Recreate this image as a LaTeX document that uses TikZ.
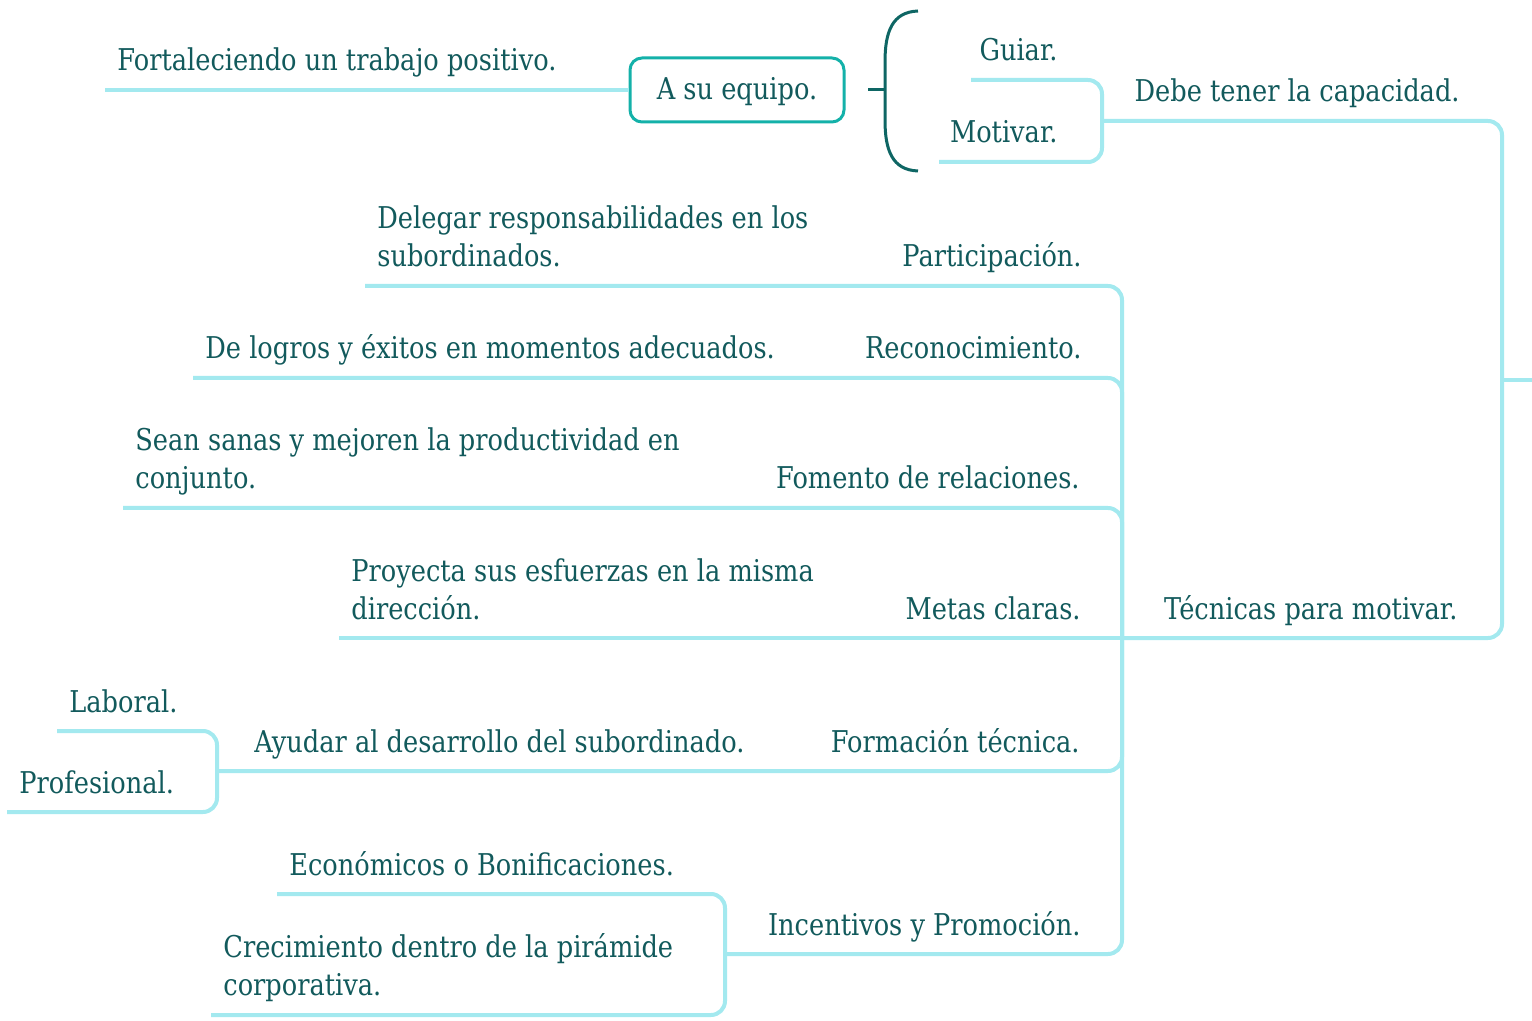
\documentclass[tikz,border=0pt]{standalone}
\usepackage{fontspec}
\setmainfont{DejaVu Serif}[FakeStretch=0.855]
\definecolor{txt}{HTML}{125A5C}
\definecolor{branchc}{HTML}{A3E9EF}
\definecolor{boxc}{HTML}{14B1A9}
\definecolor{bracec}{HTML}{0E6664}
\tikzset{
	branch/.style={draw=branchc, line width=2pt, rounded corners=7pt},
	txtfont/.style={text=txt, font=\fontsize{15}{19}\selectfont},
	lbl/.style={txtfont, inner sep=0pt, anchor=base west, align=left, yshift=-1pt},
	lblr/.style={lbl, anchor=base east, align=right},
	topicbox/.style={txtfont, draw=boxc, line width=1.5pt, rounded corners=6pt, minimum width=107pt, minimum height=32pt, text height=11pt, text depth=1pt}
}
\begin{document}
\begin{tikzpicture}[x=0.5pt, y=-0.5pt]
		\useasboundingbox (0,0) rectangle (1532,1021);
		% junctions and free ends
		\coordinate (root) at (1532,380);
		\coordinate (rootJ) at (1502,380);
		\coordinate (debeJ) at (1102,121);
		\coordinate (tecJ) at (1122,638);
		\coordinate (forJ) at (217,771);
		\coordinate (incJ) at (725,954);
		\coordinate (guiE) at (971,80);
		\coordinate (motE) at (939,162);
		\coordinate (fortE) at (105,90);
		\coordinate (parE) at (365,286);
		\coordinate (recE) at (193,378);
		\coordinate (fomE) at (123,508);
		\coordinate (metE) at (339,638);
		\coordinate (labE) at (57,731);
		\coordinate (proE) at (7,812);
		\coordinate (ecoE) at (277,894);
		\coordinate (creE) at (211,1015);
		% branches
		\draw[branch] (root) -- (rootJ);
		\draw[branch] (rootJ) |- (debeJ);
		\draw[branch] (rootJ) |- (tecJ);
		\draw[branch] (debeJ) |- (guiE);
		\draw[branch] (debeJ) |- (motE);
		\draw[branch] (tecJ) |- (parE);
		\draw[branch] (tecJ) |- (recE);
		\draw[branch] (tecJ) |- (fomE);
		\draw[branch] (tecJ) -- (metE);
		\draw[branch] (tecJ) |- (forJ);
		\draw[branch] (tecJ) |- (incJ);
		\draw[branch] (forJ) |- (labE);
		\draw[branch] (forJ) |- (proE);
		\draw[branch] (incJ) |- (ecoE);
		\draw[branch] (incJ) |- (creE);
		% box and brace
		\node[topicbox] (equipo) at (737,90) {A su equipo.};
		\draw[branch] (equipo.west) -- (fortE);
		\draw[bracec, line width=1.5pt] (918,11) .. controls (892,12) and (885,32) .. (885,62) -- (885,120) .. controls (885,150) and (892,170) .. (918,171);
		\draw[bracec, line width=1.5pt] (868,90) -- (885,90);
		% labels
		\node[lblr] (debe) at (1460,100) {Debe tener la capacidad.};
		\node[lblr] (tec) at (1458,617) {Técnicas para motivar.};
		\node[lblr] (guiar) at (1058,59) {Guiar.};
		\node[lblr] (motivar) at (1058,141) {Motivar.};
		\node[lbl] (fort) at (117,69) {Fortaleciendo un trabajo positivo.};
		\node[lblr] (par) at (1082,265) {Participación.};
		\node[lbl] (delegar) at (377,265) {Delegar responsabilidades en los\\subordinados.};
		\node[lblr] (rec) at (1082,357) {Reconocimiento.};
		\node[lbl] (logros) at (205,357) {De logros y éxitos en momentos adecuados.};
		\node[lblr] (fom) at (1080,487) {Fomento de relaciones.};
		\node[lbl] (sanas) at (135,487) {Sean sanas y mejoren la productividad en\\conjunto.};
		\node[lblr] (met) at (1081,617) {Metas claras.};
		\node[lbl] (proy) at (351,617) {Proyecta sus esfuerzas en la misma\\dirección.};
		\node[lblr] (form) at (1080,750) {Formación técnica.};
		\node[lbl] (ayudar) at (254,750) {Ayudar al desarrollo del subordinado.};
		\node[lbl] (laboral) at (69,710) {Laboral.};
		\node[lbl] (prof) at (19,791) {Profesional.};
		\node[lblr] (inc) at (1081,933) {Incentivos y Promoción.};
		\node[lbl] (eco) at (289,873) {Económicos o Bonificaciones.};
		\node[lbl] (crec) at (223,993) {Crecimiento dentro de la pirámide\\corporativa.};
	\end{tikzpicture}
\end{document}
